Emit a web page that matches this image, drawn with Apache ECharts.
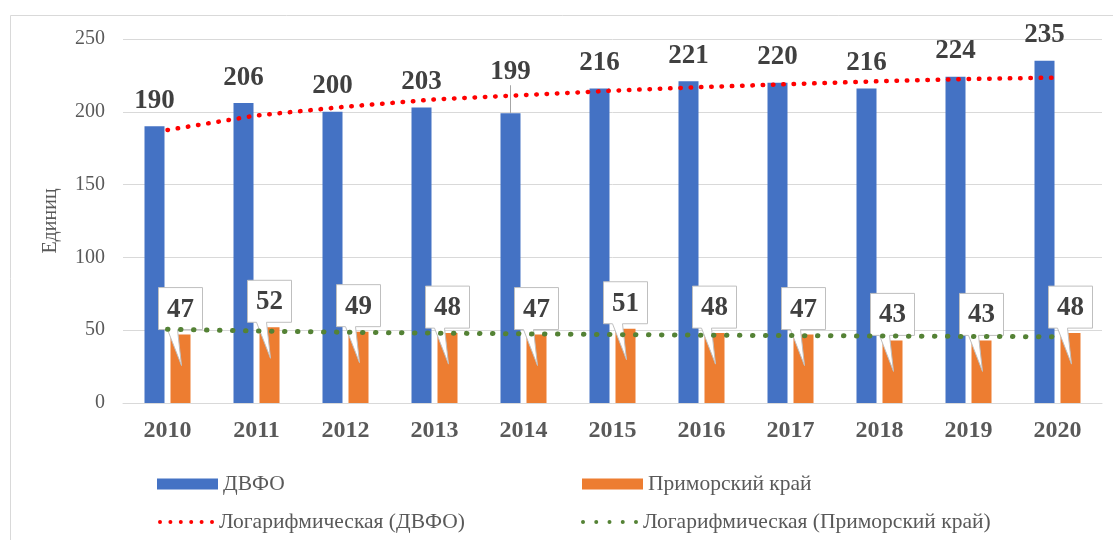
<!DOCTYPE html>
<html>
<head>
<meta charset="utf-8">
<script src="https://cdn.jsdelivr.net/npm/echarts@6/dist/echarts.min.js"></script>
<style>
  html, body { margin: 0; padding: 0; background: #fff; }
  #chart { width: 1113px; height: 540px; }
</style>
</head>
<body>
<div id="chart"></div>
<script>
// годы
const years = ['2010', '2011', '2012', '2013', '2014', '2015', '2016', '2017', '2018', '2019', '2020'];
// количество единиц
const dvfo = [190, 206, 200, 203, 199, 216, 221, 220, 216, 224, 235];
const primorsky = [47, 52, 49, 48, 47, 51, 48, 47, 43, 43, 48];
// линии тренда
const trendDvfo = [187.5, 197.5, 203.5, 208.5, 211.5, 214.5, 217, 219, 221, 222.5, 223.5];
const trendPrim = [50.6, 49.4, 48.6, 48.0, 47.5, 47.0, 46.6, 46.3, 46.0, 45.7, 45.5];
const yTicks = [0, 50, 100, 150, 200, 250];

const SERIF = 'Liberation Serif';
const BAR_W = 20;
const BAR_GAP = 0.3;
const ORANGE_SHIFT = (BAR_W + BAR_W * BAR_GAP) / 2;

const RED_LINE = {color: '#FF0000', width: 4.5, type: [0.5, 9.8], cap: 'round'};
const GREEN_LINE = {color: '#548235', width: 5, type: [0.5, 12.5], cap: 'round'};

// значок легенды из точек
function dotsIcon(count, step) {
    let d = '';
    for (let k = 0; k < count; k++) {
        let cx = 2 + k * step;
        d += 'M' + (cx - 2) + ',2a2,2 0 1,0 4,0a2,2 0 1,0 -4,0Z';
    }
    return 'path://' + d;
}

function legendBlock(name, left, top, w, h, icon) {
    return {
        data: [{name: name, icon: icon}],
        left: left,
        top: top,
        itemWidth: w,
        itemHeight: h,
        itemGap: 0,
        selectedMode: false,
        textStyle: {fontFamily: SERIF, fontSize: 21.5, color: '#595959'}
    };
}

// выноски для Приморского края
function renderCallout(params, api) {
    let v = api.value(1);
    let p = api.coord([api.value(0), v]);
    let x = p[0] + ORANGE_SHIFT;
    let bottom = p[1] - 5;
    let top = bottom - 42;
    let left = x - 22;
    let right = x + 22;
    return {
        type: 'group',
        children: [{
            type: 'polygon',
            shape: {
                points: [[left, top], [right, top], [right, bottom], [left + 19, bottom],
                    [x + 1, bottom + 36], [left + 9, bottom], [left, bottom]]
            },
            style: {fill: '#fff', stroke: '#bfbfbf', lineWidth: 1}
        }, {
            type: 'text',
            style: {
                text: String(v), x: x, y: top + 22, align: 'center', verticalAlign: 'middle',
                font: 'bold 27px "' + SERIF + '"', fill: '#404040'
            }
        }]
    };
}

let myChart = echarts.init(document.getElementById('chart'));
myChart.setOption({
    animation: false,
    graphic: [{
        type: 'rect', left: 8, top: 13,
        shape: {width: 1130, height: 560},
        style: {fill: 'none', stroke: '#d9d9d9', lineWidth: 1}
    }],
    legend: [
        legendBlock('ДВФО', 152, 468, 61, 11, 'rect'),
        legendBlock('Приморский край', 577, 468, 61, 11, 'rect'),
        legendBlock('Логарифмическая (ДВФО)', 153, 506, 56, 4.5, dotsIcon(6, 10.4)),
        legendBlock('Логарифмическая (Приморский край)', 576, 506, 57, 5, dotsIcon(5, 13.2))
    ],
    grid: {left: 123, right: 11, top: 39, bottom: 137},
    xAxis: {
        type: 'category',
        data: years,
        axisTick: {show: false},
        axisLine: {lineStyle: {color: '#d9d9d9'}},
        axisLabel: {margin: 16, fontFamily: SERIF, fontSize: 24, fontWeight: 'bold', color: '#595959'}
    },
    yAxis: {
        type: 'value',
        min: yTicks[0],
        max: yTicks[yTicks.length - 1],
        interval: 50,
        name: 'Единиц',
        nameLocation: 'middle',
        nameGap: 62,
        nameTextStyle: {fontFamily: SERIF, fontSize: 20, color: '#595959'},
        axisLabel: {margin: 18, fontFamily: SERIF, fontSize: 20, color: '#595959'},
        splitLine: {lineStyle: {color: '#d9d9d9'}}
    },
    series: [{
        name: 'ДВФО',
        type: 'bar',
        barWidth: BAR_W,
        barGap: (BAR_GAP * 100) + '%',
        itemStyle: {color: '#4472C4'},
        data: dvfo.map((v, i) => i === 4
            ? {value: v, labelLine: {show: true, lineStyle: {color: '#a6a6a6', width: 1}}}
            : v),
        label: {
            show: true, position: 'top', distance: 12,
            fontFamily: SERIF, fontSize: 27, fontWeight: 'bold', color: '#404040'
        },
        labelLayout: function (params) {
            if (params.dataIndex === 4) {
                return {dy: -16};
            }
        },
        emphasis: {disabled: true}
    }, {
        name: 'Приморский край',
        type: 'bar',
        barWidth: BAR_W,
        itemStyle: {color: '#ED7D31'},
        data: primorsky,
        emphasis: {disabled: true}
    }, {
        type: 'custom',
        renderItem: renderCallout,
        data: primorsky.map((v, i) => [i, v]),
        encode: {x: 0, y: 1},
        z: 3,
        silent: true
    }, {
        name: 'Логарифмическая (ДВФО)',
        type: 'line',
        data: trendDvfo,
        symbol: 'none',
        z: 4,
        lineStyle: RED_LINE,
        itemStyle: {color: RED_LINE.color},
        emphasis: {disabled: true}
    }, {
        name: 'Логарифмическая (Приморский край)',
        type: 'line',
        data: trendPrim,
        symbol: 'none',
        z: 4,
        lineStyle: GREEN_LINE,
        itemStyle: {color: GREEN_LINE.color},
        emphasis: {disabled: true}
    }]
});
</script>
</body>
</html>
